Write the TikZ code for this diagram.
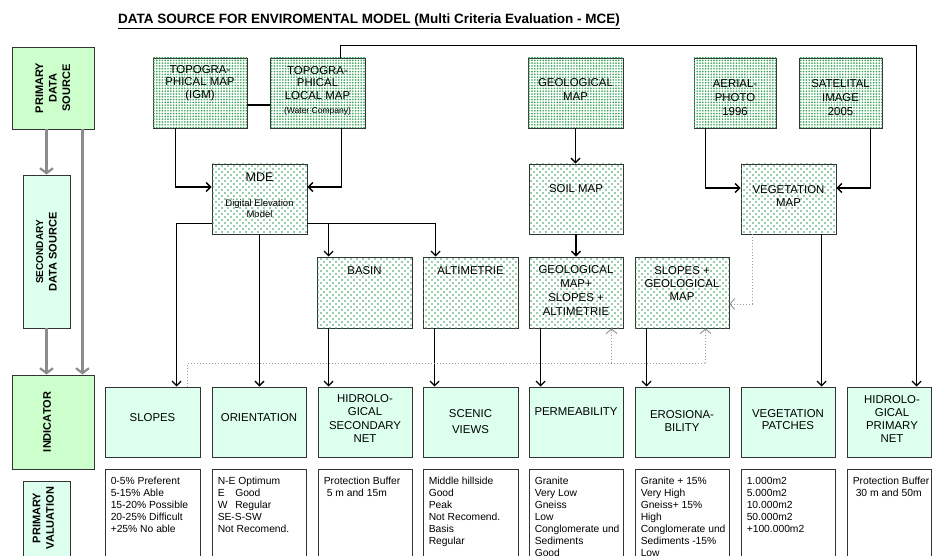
\documentclass[tikz,border=0pt]{standalone}
\usepackage{fontspec}
\setmainfont{Liberation Sans}
\usetikzlibrary{arrows.meta,calc,patterns}
\definecolor{mintA}{HTML}{CCFFCC}
\definecolor{mintB}{HTML}{DCFFEE}
\definecolor{dotgreen}{HTML}{2E9E50}
\definecolor{greyarrow}{HTML}{8C8C8C}
\definecolor{framecol}{HTML}{333333}
\definecolor{dotline}{HTML}{9A9A9A}
\newcommand\myfs[2]{\fontsize{#1}{#2}\selectfont}
\pgfdeclarepatternformonly{sparsedots}{\pgfqpoint{-1pt}{-1pt}}{\pgfqpoint{4pt}{4pt}}{\pgfqpoint{6pt}{6pt}}{
  \pgfpathcircle{\pgfqpoint{0pt}{0pt}}{0.9pt}
  \pgfpathcircle{\pgfqpoint{3pt}{3pt}}{0.9pt}
  \pgfusepath{fill}
}
\pgfdeclarepatternformonly{densedots}{\pgfqpoint{-1.1pt}{-1.1pt}}{\pgfqpoint{1.1pt}{1.1pt}}{\pgfqpoint{2.8pt}{2.8pt}}{
  \pgfpathcircle{\pgfqpoint{0pt}{0pt}}{0.95pt}
  \pgfusepath{fill}
}
\begin{document}
\begin{tikzpicture}[x=1pt,y=-1pt,
  base/.style={draw=framecol, line width=0.9pt, inner sep=0pt},
  bx/.style 2 args={minimum width=#1, minimum height=#2},
  mapbox/.style={base, fill=white, postaction={pattern=sparsedots, pattern color=dotgreen}},
  srcbox/.style={base, fill=white, postaction={pattern=densedots, pattern color=dotgreen!90}},
  sidebox/.style={base, fill=mintA},
  sideboxB/.style={base, fill=mintB},
  indbox/.style={base, fill=mintB},
  valbox/.style={base, fill=white},
  lbl/.style={inner sep=0pt, align=center, font=\myfs{11.4}{13}},
  sidelbl/.style={inner sep=0pt, align=center, rotate=90, font=\bfseries\myfs{11}{13.5}},
  indlbl/.style={inner sep=0pt, align=center, font=\myfs{11.4}{13.3}},
  valtxt/.style={inner sep=0pt, align=left, anchor=north west, font=\myfs{10.3}{11.9}},
  conn/.style={line width=1.3pt, draw=black},
  arr/.style={conn, -{Straight Barb[length=4.5pt,width=9pt,line width=1.3pt]}},
  greyarr/.style={line width=2.6pt, draw=greyarrow, -{Straight Barb[length=5pt,width=13pt,line width=2.2pt]}},
  dotl/.style={line width=1pt, draw=dotline, dotted},
  dotarr/.style={dotl, -{Straight Barb[length=4.5pt,width=11pt,line width=1pt]}}
]
\useasboundingbox (0,0) rectangle (932,556);
\clip (0,0) rectangle (932,556);

% title
\node[inner sep=0pt, anchor=base west, font=\bfseries\myfs{13.5}{15}] (title) at (118,24)
  {\underline{DATA SOURCE FOR ENVIROMENTAL MODEL (Multi Criteria Evaluation - MCE)}};

% left column
\node[sidebox, bx={82}{82}] (pds) at (53,88) {};
\node[sidelbl] (pdsT) at (53,88) {PRIMARY\\DATA\\SOURCE};
\node[sideboxB, bx={47}{153}] (sds) at (46.5,251.5) {};
\node[sidelbl] (sdsT) at (46.5,252) {{\myfs{10}{13}SECONDARY}\\DATA SOURCE};
\node[sidebox, bx={82}{94}] (ind) at (53,422) {};
\node[sidelbl] (indT) at (47,422) {INDICATOR};
\node[sideboxB, bx={47}{100}] (pv) at (46.5,531) {};
\node[sidelbl] (pvT) at (43.5,518) {PRIMARY\\VALUATION};

\draw[greyarr] (sds.north |- pds.south) -- (sds.north);
\draw[greyarr] (sds.south) -- (sds.south |- ind.north);
\coordinate (pdsR) at ($(pds.south east)+(-12,0)$);
\draw[greyarr] (pdsR) -- (pdsR |- ind.north);

% primary sources
\node[srcbox, bx={94}{70}] (topo) at (200,93) {};
\node[lbl, font=\myfs{11.4}{12.5}] (topoT) at (200,83) {TOPOGRA-\\PHICAL MAP\\(IGM)};
\node[srcbox, bx={95}{70}] (local) at (317.5,93) {};
\node[lbl, font=\myfs{11.4}{12.5}] (localT) at (317.5,83) {TOPOGRA-\\PHICAL\\LOCAL MAP};
\node[lbl, font=\myfs{8.5}{10}] (localS) at (317.5,111) {(Water Company)};
\node[srcbox, bx={95}{70}] (geo) at (575.5,93) {};
\node[lbl, font=\myfs{11.4}{14}] (geoT) at (575.5,90) {GEOLOGICAL\\MAP};
\node[srcbox, bx={82}{70}] (aerial) at (735,93) {};
\node[lbl, font=\myfs{11.4}{14}] (aerialT) at (735,97.5) {AERIAL-\\PHOTO\\1996};
\node[srcbox, bx={83}{70}] (sat) at (840.5,93) {};
\node[lbl, font=\myfs{11.4}{14}] (satT) at (840.5,97.5) {SATELITAL\\IMAGE\\2005};

% secondary sources
\node[mapbox, bx={95}{70}] (mde) at (259.5,199) {};
\node[lbl, font=\myfs{12.5}{14}] (mdeT) at (259.5,177) {MDE};
\node[lbl, font=\myfs{9.5}{11}] (mdeS) at (259.5,208.5) {Digital Elevation\\Model};
\node[mapbox, bx={94}{70}] (soil) at (576,199) {};
\node[lbl] (soilT) at (576,189) {SOIL MAP};
\node[mapbox, bx={95}{70}] (vegm) at (788.5,199) {};
\node[lbl, font=\myfs{11.4}{12.5}] (vegmT) at (788.5,196) {VEGETATION\\MAP};
\node[mapbox, bx={95}{71}] (basin) at (364.5,292.5) {};
\node[lbl] (basinT) at (364.5,271) {BASIN};
\node[mapbox, bx={95}{71}] (alti) at (470.5,292.5) {};
\node[lbl] (altiT) at (470.5,271) {ALTIMETRIE};
\node[mapbox, bx={94}{71}] (geoslope) at (576,292.5) {};
\node[lbl, font=\myfs{11.4}{14.3}] (geoslopeT) at (576,290.5) {GEOLOGICAL\\MAP+\\SLOPES +\\ALTIMETRIE};
\node[mapbox, bx={94}{71}] (slopegeo) at (682,292.5) {};
\node[lbl, font=\myfs{11.4}{13}] (slopegeoT) at (682,284) {SLOPES +\\GEOLOGICAL\\MAP};

% indicators
\node[indbox, bx={95}{70}] (slopes) at (152.5,422) {};
\node[indlbl] (slopesT) at (152.5,418) {SLOPES};
\node[indbox, bx={94}{70}] (orient) at (259,422) {};
\node[indlbl] (orientT) at (259,418) {ORIENTATION};
\node[indbox, bx={94}{70}] (hidsec) at (365,422) {};
\node[indlbl] (hidsecT) at (365,418.5) {HIDROLO-\\GICAL\\SECONDARY\\NET};
\node[indbox, bx={95}{70}] (scenic) at (470.5,422) {};
\node[indlbl, font=\myfs{11.4}{16.5}] (scenicT) at (470.5,421.5) {SCENIC\\VIEWS};
\node[indbox, bx={94}{70}] (perm) at (576,422) {};
\node[indlbl] (permT) at (576,412) {PERMEABILITY};
\node[indbox, bx={94}{70}] (eros) at (682,422) {};
\node[indlbl, font=\myfs{11.4}{12.5}] (erosT) at (682,421) {EROSIONA-\\BILITY};
\node[indbox, bx={94}{70}] (vegp) at (788,422) {};
\node[indlbl, font=\myfs{11.4}{12.5}] (vegpT) at (788,419.5) {VEGETATION\\PATCHES};
\node[indbox, bx={84}{70}] (hidpri) at (889,422) {};
\node[indlbl] (hidpriT) at (892,419) {HIDROLO-\\GICAL\\PRIMARY\\NET};

% valuation boxes
\node[valbox, bx={95}{110}] (slopesv) at (152.5,524) {};
\node[valbox, bx={94}{110}] (orientv) at (259,524) {};
\node[valbox, bx={94}{110}] (hidsecv) at (365,524) {};
\node[valbox, bx={95}{110}] (scenicv) at (470.5,524) {};
\node[valbox, bx={94}{110}] (permv) at (576,524) {};
\node[valbox, bx={94}{110}] (erosv) at (682,524) {};
\node[valbox, bx={94}{110}] (vegpv) at (788,524) {};
\node[valbox, bx={84}{110}] (hidpriv) at (889,524) {};

\node[valtxt] (slopesvT) at ($(slopesv.north west)+(6,8.5)$)
  {0-5\% Preferent\\5-15\% Able\\15-20\% Possible\\20-25\% Difficult\\+25\% No able};
\node[valtxt] (orientvT) at ($(orientv.north west)+(6,8.5)$)
  {N-E Optimum\\\makebox[17.5pt][l]{E}Good\\\makebox[17.5pt][l]{W}Regular\\SE-S-SW\\Not Recomend.};
\node[valtxt] (hidsecvT) at ($(hidsecv.north west)+(6,8.5)$)
  {Protection Buffer\\\hspace*{3pt}5 m and 15m};
\node[valtxt] (scenicvT) at ($(scenicv.north west)+(6,8.5)$)
  {Middle hillside\\Good\\Peak\\Not Recomend.\\Basis\\Regular};
\node[valtxt] (permvT) at ($(permv.north west)+(6,8.5)$)
  {Granite\\Very Low\\Gneiss\\Low\\Conglomerate und\\Sediments\\Good};
\node[valtxt] (erosvT) at ($(erosv.north west)+(6,8.5)$)
  {Granite + 15\%\\Very High\\Gneiss+ 15\%\\High\\Conglomerate und\\Sediments -15\%\\Low};
\node[valtxt] (vegpvT) at ($(vegpv.north west)+(6,8.5)$)
  {1.000m2\\5.000m2\\10.000m2\\50.000m2\\+100.000m2};
\node[valtxt] (hidprivT) at ($(hidpriv.north west)+(6,8.5)$)
  {Protection Buffer\\\hspace*{3pt}30 m and 50m};

% connectors
\draw[conn] ($(topo.east)+(0,12)$) -- ($(local.west)+(0,12)$);
\draw[arr] ($(topo.south west)+(23,0)$) |- ($(mde.west)+(0,-12)$);
\draw[arr] ($(local.south west)+(72,0)$) |- ($(mde.east)+(0,-12)$);
\draw[arr] ($(local.north west)+(71,0)$) -- ++(0,-12) -| ($(hidpri.north west)+(70,0)$);

\draw[arr] ($(mde.south west)+(0,-11)$) -| ($(slopes.north west)+(72,0)$);
\draw[arr] (mde.south) -- (mde.south |- orient.north);
\coordinate (mdeR) at ($(mde.south east)+(0,-11)$);
\draw[arr] (mdeR) -| ($(basin.north west)+(12,0)$);
\draw[arr] (mdeR) -| ($(alti.north west)+(13,0)$);
\draw[arr] ($(basin.south west)+(12,0)$) -- ($(hidsec.north west)+(11,0)$);
\draw[arr] ($(alti.south west)+(12,0)$) -- ($(scenic.north west)+(12,0)$);

\draw[arr] (geo.south) -- (geo.south |- soil.north);
\draw[arr] (soil.south) -- (soil.south |- geoslope.north);
\draw[arr] ($(geoslope.south west)+(12,0)$) -- ($(perm.north west)+(12,0)$);
\draw[arr] ($(slopegeo.south west)+(12,0)$) -- ($(eros.north west)+(12,0)$);

\draw[arr] ($(aerial.south west)+(12,0)$) |- ($(vegm.west)+(0,-11)$);
\draw[arr] ($(sat.south west)+(72,0)$) |- ($(vegm.east)+(0,-11)$);
\draw[arr] ($(vegm.south west)+(81,0)$) -- ($(vegp.north west)+(81,0)$);

% dotted feedback connectors
\draw[dotarr] ($(vegm.south west)+(12,0)$) |- ($(slopegeo.east)+(0,11.5)$);
\coordinate (dotEnd) at ($(slopegeo.south west)+(71,35)$);
\draw[dotl] ($(slopes.north west)+(83,0)$) |- (dotEnd);
\draw[dotarr] ($(geoslope.south west)+(83,35)$) -- ($(geoslope.south west)+(83,0)$);
\draw[dotarr] (dotEnd) -- ($(slopegeo.south west)+(71,0)$);
\end{tikzpicture}
\end{document}
